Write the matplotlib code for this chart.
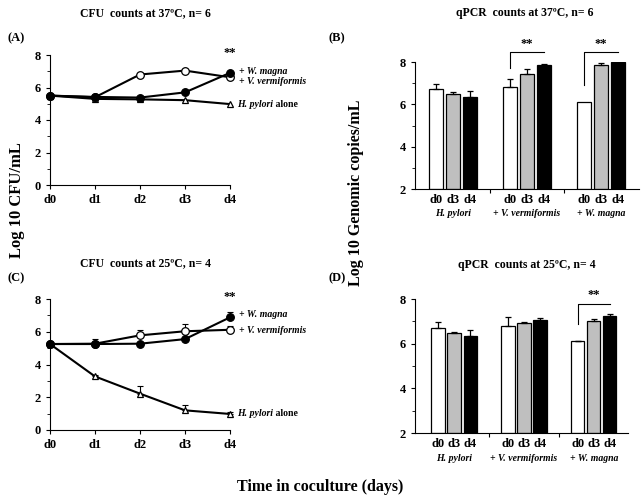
import numpy as np
import matplotlib
matplotlib.use("Agg")
import matplotlib.pyplot as plt
from matplotlib.ticker import MultipleLocator

plt.rcParams['font.family'] = ['Liberation Serif', 'DejaVu Serif']
plt.rcParams['font.weight'] = 'bold'

# ---- data ----
days = ['d0', 'd1', 'd2', 'd3', 'd4']

# CFU at 37C (n=6)
cfu37_hp = [5.5, 5.3, 5.27, 5.22, 4.98]
cfu37_vv = [5.5, 5.4, 6.8, 7.04, 6.63]
cfu37_wm = [5.5, 5.42, 5.38, 5.7, 6.9]

# CFU at 25C (n=4)
cfu25_hp = [5.25, 3.27, 2.22, 1.2, 0.98]
cfu25_hp_err = [0.0, 0.1, 0.45, 0.3, 0.1]
cfu25_vv = [5.25, 5.27, 5.78, 6.03, 6.12]
cfu25_vv_err = [0.0, 0.3, 0.3, 0.45, 0.25]
cfu25_wm = [5.25, 5.25, 5.27, 5.55, 6.88]
cfu25_wm_err = [0.0, 0.0, 0.0, 0.0, 0.35]

groups = ['H. pylori', '+ V. vermiformis', '+ W. magna']
bar_days = ['d0', 'd3', 'd4']

# qPCR at 37C: rows = groups, cols = d0, d3, d4
q37 = [[6.73, 6.48, 6.35],
       [6.8, 7.42, 7.85],
       [6.12, 7.85, 8.0]]
q37_err = [[0.23, 0.12, 0.28],
           [0.42, 0.25, 0.05],
           [0.0, 0.1, 0.02]]

# qPCR at 25C
q25 = [[6.72, 6.48, 6.35],
       [6.78, 6.92, 7.08],
       [6.1, 7.02, 7.22]]
q25_err = [[0.25, 0.06, 0.28],
           [0.42, 0.06, 0.06],
           [0.04, 0.1, 0.1]]

W, H = 642, 499
fig = plt.figure(figsize=(W / 100, H / 100), dpi=100)


def box(l, t, r, b):
    return [l / W, 1 - b / H, (r - l) / W, (b - t) / H]


def style(ax):
    ax.spines['top'].set_visible(False)
    ax.spines['right'].set_visible(False)
    ax.tick_params(direction='out', length=3, width=0.8, labelsize=9)
    ax.tick_params(which='minor', direction='out', length=2, width=0.6)
    for lab in ax.get_yticklabels():
        lab.set_fontweight('bold')


def line_panel(ax, hp, vv, wm, hp_e=None, vv_e=None, wm_e=None, labels_y=None):
    x = np.arange(len(days))
    for y, e, m, fc, ms in [(hp, hp_e, '^', 'white', 5),
                            (vv, vv_e, 'o', 'white', 5.5),
                            (wm, wm_e, 'o', 'black', 5.5)]:
        if e is not None:
            ax.errorbar(x, y, yerr=[np.zeros(len(e)), e], fmt='none', ecolor='black',
                        elinewidth=0.8, capsize=2.5, capthick=0.8, clip_on=False)
        ax.plot(x, y, color='black', lw=1.5, marker=m, mfc=fc, mec='black',
                ms=ms, mew=0.9, clip_on=False, zorder=3)
    ax.set_xlim(0, 4)
    ax.set_ylim(0, 8)
    ax.set_xticks(x)
    ax.set_xticklabels(days, fontweight='bold', fontsize=9)
    ax.set_yticks([0, 2, 4, 6, 8])
    ax.yaxis.set_minor_locator(MultipleLocator(1))
    style(ax)
    ax.text(4, 7.75, '**', ha='center', va='bottom', fontsize=9)
    ty = labels_y
    ax.text(4.2, ty[0], '+ W. magna', ha='left', va='center', fontsize=7,
            fontstyle='italic', fontweight='bold')
    ax.text(4.2, ty[1], '+ V. vermiformis', ha='left', va='center', fontsize=7,
            fontstyle='italic', fontweight='bold')
    t = ax.text(4.15, ty[2], 'H. pylori', ha='left', va='center', fontsize=7,
                fontstyle='italic', fontweight='bold')
    ax.annotate(' alone', xy=(1, 0.5), xycoords=t, ha='left', va='center',
                fontsize=7, fontweight='bold')


def bar_panel(ax, vals, errs, xlim, bracket):
    colors = ['white', '#bfbfbf', 'black']
    offs = [-0.23, 0, 0.23]
    for g in range(len(groups)):
        for i in range(3):
            xp = g + offs[i]
            ax.bar(xp, vals[g][i] - 2, bottom=2, width=0.19, color=colors[i],
                   edgecolor='black', lw=0.9, zorder=2)
            if errs[g][i] > 0:
                ax.errorbar(xp, vals[g][i], yerr=[[0], [errs[g][i]]], fmt='none',
                            ecolor='black', elinewidth=0.9, capsize=2.5,
                            capthick=0.9, zorder=3)
            ax.text(xp, 1.78, bar_days[i], ha='center', va='top', fontsize=9,
                    fontweight='bold')
        ax.text(g, 1.05, groups[g], ha='center', va='top', fontsize=7,
                fontstyle='italic', fontweight='bold')
    ax.set_xlim(*xlim)
    ax.set_ylim(2, 8)
    ax.set_xticks([0.5, 1.5])
    ax.set_xticklabels([])
    ax.set_yticks([2, 4, 6, 8])
    ax.yaxis.set_minor_locator(MultipleLocator(1))
    style(ax)
    for g, ytop, yleft in bracket:
        x0, x1 = g - 0.23, g + 0.23
        ax.plot([x0, x0, x1], [yleft, ytop, ytop], color='black', lw=0.8,
                clip_on=False)
        ax.text(g, ytop + 0.12, '**', ha='center', va='bottom', fontsize=9)


axA = fig.add_axes(box(50, 55, 230, 185))
line_panel(axA, cfu37_hp, cfu37_vv, cfu37_wm, labels_y=[7.0, 6.4, 4.96])

axC = fig.add_axes(box(50, 299, 230, 430))
line_panel(axC, cfu25_hp, cfu25_vv, cfu25_wm, cfu25_hp_err, cfu25_vv_err,
           cfu25_wm_err, labels_y=[7.04, 6.08, 0.98])

axB = fig.add_axes(box(415, 62, 639, 189))
bar_panel(axB, q37, q37_err, (-0.51, 2.51), [(1, 8.47, 7.7), (2, 8.47, 6.9)])

axD = fig.add_axes(box(415, 299, 628, 433))
bar_panel(axD, q25, q25_err, (-0.56, 2.49), [(2, 7.79, 6.9)])

# titles and panel letters
fs_t = 8.5
fig.text(145 / W, 1 - 13 / H, 'CFU  counts at 37ºC, n= 6', ha='center', va='center', fontsize=fs_t)
fig.text(525 / W, 1 - 13 / H, 'qPCR  counts at 37ºC, n= 6', ha='center', va='center', fontsize=fs_t)
fig.text(145 / W, 1 - 263 / H, 'CFU  counts at 25ºC, n= 4', ha='center', va='center', fontsize=fs_t)
fig.text(527 / W, 1 - 265 / H, 'qPCR  counts at 25ºC, n= 4', ha='center', va='center', fontsize=fs_t)
fig.text(16 / W, 1 - 38 / H, '(A)', ha='center', va='center', fontsize=9)
fig.text(337 / W, 1 - 38 / H, '(B)', ha='center', va='center', fontsize=9)
fig.text(16 / W, 1 - 278 / H, '(C)', ha='center', va='center', fontsize=9)
fig.text(337 / W, 1 - 278 / H, '(D)', ha='center', va='center', fontsize=9)

fig.text(17 / W, 1 - 200 / H, 'Log 10 CFU/mL', rotation=90, ha='center', va='center', fontsize=12)
fig.text(356 / W, 1 - 193 / H, 'Log 10 Genomic copies/mL', rotation=90, ha='center',
         va='center', fontsize=11.5)
fig.text(320 / W, 1 - 487 / H, 'Time in coculture (days)', ha='center', va='center', fontsize=11.5)

fig.savefig('out.png', dpi=100)
